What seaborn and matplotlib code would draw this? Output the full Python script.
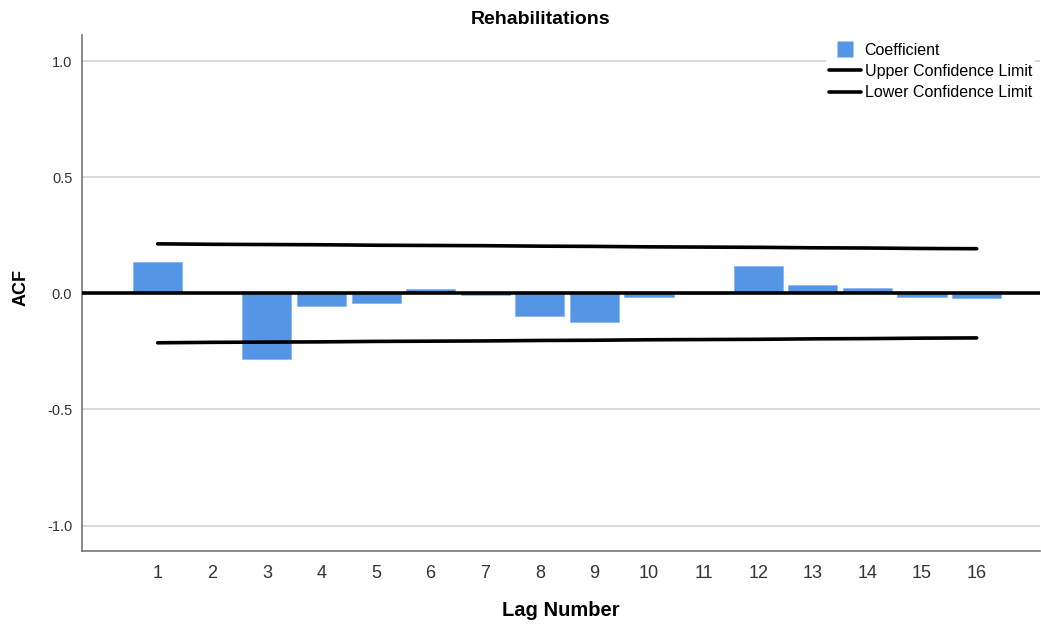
import matplotlib
matplotlib.use("Agg")
import matplotlib.pyplot as plt
import seaborn as sns
import numpy as np
import pandas as pd
from matplotlib.lines import Line2D

lags = [1, 2, 3, 4, 5, 6, 7, 8, 9, 10, 11, 12, 13, 14, 15, 16]
coefficient = [0.134, 0.002, -0.284, -0.053, -0.042, 0.019, -0.006, -0.096,
               -0.123, -0.015, -0.002, 0.118, 0.034, 0.021, -0.015, -0.019]
upper_limit = [0.213, 0.211, 0.210, 0.209, 0.207, 0.206, 0.205, 0.203,
               0.202, 0.200, 0.199, 0.198, 0.196, 0.195, 0.193, 0.192]
lower_limit = [-0.213, -0.211, -0.210, -0.209, -0.207, -0.206, -0.205, -0.203,
               -0.202, -0.200, -0.199, -0.198, -0.196, -0.195, -0.193, -0.192]
y_ticks = [-1.0, -0.5, 0.0, 0.5, 1.0]
y_tick_labels = ["-1.0", "-0.5", "0.0", "0.5", "1.0"]

title = "Rehabilitations"
x_label = "Lag Number"
y_label = "ACF"
legend_labels = ["Coefficient", "Upper Confidence Limit", "Lower Confidence Limit"]

bar_color = "#5595e5"

sns.set_style("white")
plt.rcParams["font.family"] = ["Liberation Sans", "DejaVu Sans"]
plt.rcParams["text.color"] = "black"
plt.rcParams["axes.labelcolor"] = "black"

df = pd.DataFrame({"lag": lags, "acf": coefficient,
                   "upper": upper_limit, "lower": lower_limit})

fig = plt.figure(figsize=(10.41, 6.28), dpi=100)
ax = fig.add_axes([82 / 1041, 1 - 550.7 / 628, (1040 - 82) / 1041, (550.7 - 35) / 628])

for y in y_ticks:
    ax.axhline(y, color="#d4d4d4", lw=1.2, zorder=0)

sns.barplot(data=df, x="lag", y="acf", native_scale=True, color=bar_color,
            width=0.9, saturation=1, edgecolor="#8ab6ee", linewidth=0.6,
            ax=ax, zorder=2)
ax.axhline(0, color="black", lw=2.6, zorder=3)
sns.lineplot(data=df, x="lag", y="upper", color="black", lw=2.6, ax=ax, zorder=4)
sns.lineplot(data=df, x="lag", y="lower", color="black", lw=2.6, ax=ax, zorder=4)

ax.set_xlim(-0.386, 17.16)
ax.set_ylim(-1.108, 1.112)
ax.set_xticks(lags)
ax.set_xticklabels([str(l) for l in lags], fontsize=13, color="#333333")
ax.set_yticks(y_ticks)
ax.set_yticklabels(y_tick_labels, fontsize=10.5, color="#333333")
ax.tick_params(axis="x", length=0, pad=10)
ax.tick_params(axis="y", length=0, pad=7)

for side in ["top", "right"]:
    ax.spines[side].set_visible(False)
for side in ["left", "bottom"]:
    ax.spines[side].set_color("#777777")
    ax.spines[side].set_linewidth(1.2)

ax.set_xlabel(x_label, fontsize=14.5, fontweight="bold", labelpad=14)
ax.set_ylabel(y_label, fontsize=13, fontweight="bold")
ax.yaxis.set_label_coords(-52 / 958, (550.7 - 287.5) / 515.7)
fig.text(541 / 1041, 1 - 19 / 628, title, fontsize=14, fontweight="bold",
         ha="center", va="center")

handles = [
    Line2D([0], [0], marker="s", markersize=11.5, linestyle="none",
           markerfacecolor=bar_color, markeredgecolor="none"),
    Line2D([0], [0], color="black", lw=2.6),
    Line2D([0], [0], color="black", lw=2.6),
]
leg = ax.legend(handles, legend_labels, loc="upper right",
                bbox_to_anchor=(1.0, 1.0), fontsize=11.5, frameon=True,
                framealpha=1, edgecolor="none", facecolor="white",
                handlelength=2.0, handletextpad=0.2, labelspacing=0.38,
                borderpad=0.2, borderaxespad=0.3)

fig.savefig("out.png", dpi=100)
